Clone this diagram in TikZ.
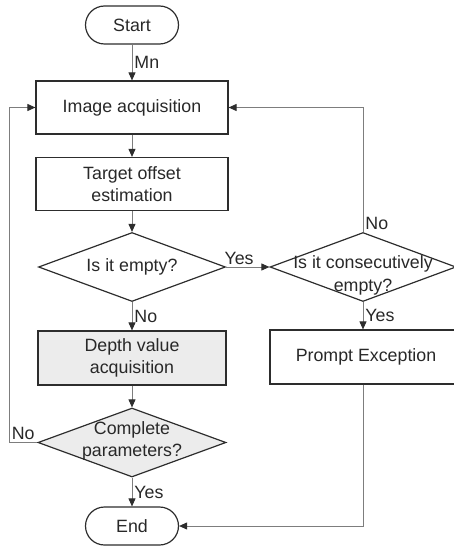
\documentclass[tikz,border=0pt]{standalone}
\usepackage{fontspec}
\setmainfont{Liberation Sans}
\usetikzlibrary{shapes.geometric,arrows.meta}

\definecolor{boxline}{RGB}{45,45,45}
\definecolor{lineclr}{RGB}{125,125,125}
\definecolor{shadegray}{RGB}{236,236,236}
\definecolor{txt}{RGB}{40,40,40}

\tikzset{
	box/.style={draw=boxline, line width=1.2pt, minimum width=192pt, minimum height=53pt, align=center, inner sep=0pt},
	term/.style={draw=boxline, line width=1.2pt, rounded corners=19pt, minimum width=93pt, minimum height=38pt, inner sep=0pt},
	decide/.style={draw=boxline, line width=1.2pt, diamond, minimum width=187pt, minimum height=69pt, inner sep=0pt},
	shade/.style={fill=shadegray},
	conn/.style={draw=lineclr, line width=0.9pt, -{Triangle[length=8pt,width=7pt,color=boxline]}},
	tag/.style={text=txt, inner sep=2pt},
}
% text of a decision, kept out of the diamond's size
\newcommand{\dtext}[2][0pt]{\smash{\makebox[0pt]{\raisebox{#1}{\begin{tabular}{@{}c@{}}#2\end{tabular}}}}}

\begin{document}
\begin{tikzpicture}[x=1pt,y=1pt,yscale=-1,font=\fontsize{17.8}{22.5}\selectfont,text=txt]
	\useasboundingbox (0,0) rectangle (454,548);
	
	% main column
	\node[term] (start) at (132,25) {Start};
	\node[box] (img) at (132,107.5) {Image acquisition};
	\node[box] (target) at (132,184) {Target offset\\estimation};
	\node[decide] (empty) at (132,267) {\dtext[-4pt]{Is it empty?}};
	\node[box,shade,minimum width=188pt,minimum height=54pt] (depth) at (132,358) {Depth value\\acquisition};
	\node[decide,shade,minimum width=188pt] (complete) at (132,442.5) {\dtext[-3pt]{Complete\\parameters?}};
	\node[term] (end) at (132,526) {End};
	
	% right column
	\node[decide,minimum width=186pt] (consec) at (363,267) {\dtext[-13pt]{Is it consecutively\\empty?}};
	\node[box,minimum height=54pt] (prompt) at (366,357) {Prompt Exception};
	
	\coordinate (loop) at (9,0);
	
	% connectors
	\draw[conn] (start) -- node[tag,right]{Mn} (img);
	\draw[conn] (img) -- (target);
	\draw[conn] (target) -- (empty);
	\draw[conn] (empty) -- node[tag,right]{No} (depth);
	\draw[conn] (depth) -- (complete);
	\draw[conn] (complete) -- node[tag,right]{Yes} (end);
	\draw[conn] (empty) -- node[tag,above,pos=0.3]{Yes} (consec);
	\draw[conn] (complete.west) -- node[tag,above]{No} (complete.west -| loop) |- (img.west);
	\draw[conn] (consec.north) |- node[tag,above right,pos=0]{No} (img.east);
	\draw[conn] (consec) -- node[tag,right]{Yes} (consec.south |- prompt.north);
	\draw[conn] (consec.south |- prompt.south) |- (end.east);
\end{tikzpicture}
\end{document}
